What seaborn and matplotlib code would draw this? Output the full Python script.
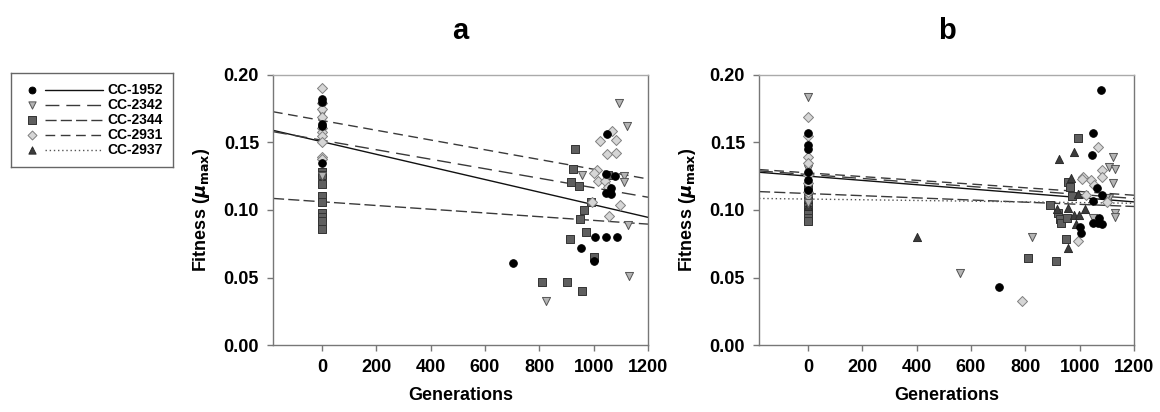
import numpy as np
import pandas as pd
import matplotlib
matplotlib.use("Agg")
import matplotlib.pyplot as plt
import seaborn as sns

strains = ["CC-1952", "CC-2342", "CC-2344", "CC-2931", "CC-2937"]

# ---- panel a: points (generation, fitness) ----
a_1952_gen = [0, 0, 0, 0, 0, 703, 955, 1000, 1004, 1047, 1086, 1047, 1065, 1065, 1047, 1079, 1050]
a_1952_fit = [0.182, 0.180, 0.164, 0.162, 0.135, 0.0605, 0.0716, 0.0622, 0.0798, 0.0798, 0.0798,
              0.1123, 0.1119, 0.116, 0.1264, 0.1249, 0.1563]
a_2342_gen = [0, 0, 0, 826, 958, 1093, 1121, 1110, 1110, 1128, 1131]
a_2342_fit = [0.172, 0.166, 0.125, 0.0328, 0.126, 0.179, 0.162, 0.1254, 0.1205, 0.0889, 0.0511]
a_2344_gen = [0, 0, 0, 0, 0, 0, 0, 0, 0, 933, 924, 917, 947, 991, 963, 948, 970, 912, 1000,
              810, 901, 957, 1053]
a_2344_fit = [0.128, 0.126, 0.119, 0.110, 0.106, 0.0975, 0.095, 0.092, 0.086, 0.145, 0.130,
              0.1205, 0.118, 0.106, 0.100, 0.0936, 0.0835, 0.0785, 0.065, 0.0464, 0.0469, 0.0402, 0.126]
a_2931_gen = [0, 0, 0, 0, 0, 0, 0, 0, 0, 0, 1067, 1022, 1081, 1050, 1083, 1012, 1000, 1016,
              1041, 1052, 994, 1098, 1056]
a_2931_fit = [0.190, 0.179, 0.175, 0.169, 0.161, 0.158, 0.155, 0.150, 0.1395, 0.138, 0.1588,
              0.1514, 0.152, 0.1415, 0.1425, 0.1296, 0.1277, 0.1217, 0.1217, 0.1173, 0.1057,
              0.1037, 0.0956]
a_2937_gen = []
a_2937_fit = []

# regression lines, panel a (intercept at generation 0, slope per generation)
a_intercept = [0.1506, 0.1517, 0.1061, 0.1663, None]
a_slope = [-4.67e-5, -3.52e-5, -1.38e-5, -3.61e-5, None]

# ---- panel b ----
b_1952_gen = [0, 0, 0, 0, 0, 0, 1077, 1050, 1044, 1065, 1081, 1050, 1072, 1050, 1066, 1084,
              1001, 1005, 703]
b_1952_fit = [0.157, 0.148, 0.145, 0.128, 0.122, 0.115, 0.189, 0.157, 0.141, 0.116, 0.111,
              0.107, 0.0943, 0.0906, 0.0906, 0.0894, 0.0877, 0.0832, 0.0432]
b_2342_gen = [0, 0, 0, 0, 0, 1124, 1109, 1131, 1121, 1108, 1097, 1050, 1130, 1130, 825, 561]
b_2342_fit = [0.184, 0.130, 0.112, 0.108, 0.105, 0.1395, 0.132, 0.130, 0.1198, 0.1086, 0.1086,
              0.0943, 0.0975, 0.0948, 0.0798, 0.0536]
b_2344_gen = [0, 0, 0, 0, 0, 0, 0, 993, 958, 964, 972, 891, 919, 928, 931, 952, 948, 810, 912]
b_2344_fit = [0.118, 0.110, 0.104, 0.100, 0.097, 0.094, 0.092, 0.1536, 0.121, 0.117, 0.110,
              0.104, 0.0975, 0.0933, 0.0901, 0.0938, 0.0785, 0.0642, 0.0625]
b_2931_gen = [0, 0, 0, 0, 0, 0, 0, 1066, 1011, 1081, 1084, 1041, 1054, 1022, 1099, 993, 786, 1008]
b_2931_fit = [0.169, 0.155, 0.139, 0.135, 0.126, 0.120, 0.113, 0.147, 0.1247, 0.1296, 0.1247,
              0.122, 0.1185, 0.111, 0.1056, 0.077, 0.0326, 0.1227]
b_2937_gen = [0, 0, 0, 0, 981, 925, 967, 995, 918, 958, 979, 997, 1019, 986, 956, 403]
b_2937_fit = [0.121, 0.116, 0.108, 0.103, 0.143, 0.138, 0.1235, 0.112, 0.1005, 0.1017, 0.0963,
              0.0963, 0.101, 0.0894, 0.0716, 0.0798]

b_intercept = [0.1251, 0.1263, 0.1122, 0.1275, 0.1081]
b_slope = [-1.59e-5, -1.48e-5, -8.0e-6, -1.38e-5, -2.6e-6]

x_ticks = [0, 200, 400, 600, 800, 1000, 1200]
y_ticks = [0.00, 0.05, 0.10, 0.15, 0.20]
x_min, x_max = -180, 1200

# styles
markers = {"CC-1952": "o", "CC-2342": "v", "CC-2344": "s", "CC-2931": "D", "CC-2937": "^"}
faces = {"CC-1952": "black", "CC-2342": "#b4b4b4", "CC-2344": "#5f5f5f",
         "CC-2931": "#d6d6d6", "CC-2937": "#3c3c3c"}
edges = {"CC-1952": "black", "CC-2342": "#555555", "CC-2344": "#333333",
         "CC-2931": "#808080", "CC-2937": "#2a2a2a"}
sizes = {"CC-1952": 30, "CC-2342": 34, "CC-2344": 34, "CC-2931": 26, "CC-2937": 34}
dashes = {"CC-1952": "-", "CC-2342": (0, (10, 5)), "CC-2344": (0, (8, 3)),
          "CC-2931": (0, (7, 4)), "CC-2937": (0, (1, 2))}
line_cols = {"CC-1952": "#111111", "CC-2342": "#3a3a3a", "CC-2344": "#3a3a3a",
             "CC-2931": "#3a3a3a", "CC-2937": "#555555"}
draw_order = ["CC-2344", "CC-2937", "CC-2342", "CC-2931", "CC-1952"]


def to_frame(gens, fits):
    rows = []
    for s, g, f in zip(strains, gens, fits):
        rows += [{"strain": s, "gen": gi, "fit": fi} for gi, fi in zip(g, f)]
    return pd.DataFrame(rows)


df_a = to_frame([a_1952_gen, a_2342_gen, a_2344_gen, a_2931_gen, a_2937_gen],
                [a_1952_fit, a_2342_fit, a_2344_fit, a_2931_fit, a_2937_fit])
df_b = to_frame([b_1952_gen, b_2342_gen, b_2344_gen, b_2931_gen, b_2937_gen],
                [b_1952_fit, b_2342_fit, b_2344_fit, b_2931_fit, b_2937_fit])

sns.set_style("ticks")
plt.rcParams["font.family"] = ["Liberation Sans", "DejaVu Sans"]
plt.rcParams["font.weight"] = "bold"
plt.rcParams["mathtext.fontset"] = "dejavusans"
plt.rcParams["text.color"] = "black"
plt.rcParams["axes.labelcolor"] = "black"

fig = plt.figure(figsize=(11.6, 4.12), dpi=100)
ax_a = fig.add_axes([273 / 1160, 67 / 412, 375 / 1160, 270 / 412])
ax_b = fig.add_axes([759 / 1160, 67 / 412, 375 / 1160, 270 / 412])


def draw_panel(ax, df, intercepts, slopes, title):
    xs = np.array([x_min, x_max])
    for s, b0, b1 in zip(strains, intercepts, slopes):
        if b0 is None:
            continue
        ax.plot(xs, b0 + b1 * xs, linestyle=dashes[s], color=line_cols[s], lw=1.0, zorder=2)
    for s in draw_order:
        sub = df[df["strain"] == s]
        if sub.empty:
            continue
        sns.scatterplot(data=sub, x="gen", y="fit", ax=ax, marker=markers[s], s=sizes[s],
                        color=faces[s], edgecolor=edges[s], linewidth=0.7, zorder=3, legend=False)
    ax.set_xlim(x_min, x_max)
    ax.set_ylim(0, 0.20)
    ax.set_xticks(x_ticks)
    ax.set_yticks(y_ticks)
    ax.set_yticklabels([f"{v:.2f}" for v in y_ticks])
    ax.tick_params(direction="out", length=4, width=1, colors="#777777", labelcolor="black",
                   labelsize=13, pad=6)
    for sp in ax.spines.values():
        sp.set_visible(True)
        sp.set_color("#777777")
        sp.set_linewidth(1.0)
    ax.spines["top"].set_color("#aaaaaa")
    ax.set_xlabel("Generations", fontsize=13, fontweight="bold", labelpad=8)
    ax.set_ylabel(r"Fitness ($\mu_{\mathrm{max}}$)", fontsize=13, fontweight="bold", labelpad=8)
    ax.set_title(title, fontsize=21, fontweight="bold", pad=26)


draw_panel(ax_a, df_a, a_intercept, a_slope, "a")
draw_panel(ax_b, df_b, b_intercept, b_slope, "b")

# legend box
lg = fig.add_axes([10.5 / 1160, (412 - 167) / 412, 162 / 1160, 94 / 412])
lg.set_xlim(0, 1)
lg.set_ylim(0, 1)
lg.set_xticks([])
lg.set_yticks([])
for sp in lg.spines.values():
    sp.set_color("#666666")
    sp.set_linewidth(1.0)
row_y = [0.82, 0.66, 0.50, 0.34, 0.18]
for s, yy in zip(strains, row_y):
    lg.scatter([0.13], [yy], marker=markers[s], s=sizes[s] * 0.8, color=faces[s],
               edgecolors=edges[s], linewidths=0.7)
    lg.plot([0.21, 0.57], [yy, yy], linestyle=dashes[s], color=line_cols[s], lw=1.0)
    lg.text(0.60, yy, s, fontsize=10, fontweight="bold", va="center", ha="left")

fig.savefig("out.png", dpi=100)
